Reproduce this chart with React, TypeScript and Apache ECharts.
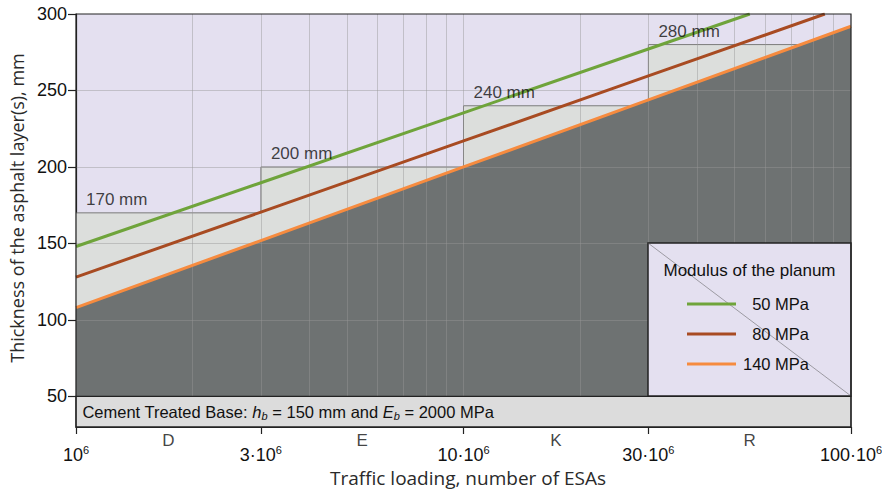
import React, { useEffect, useRef } from 'react';
import * as echarts from 'echarts';

// Traffic classes (ESAs) and their letters
const classBounds = [1e6, 3e6, 10e6, 30e6, 100e6];
const classNames = ['D', 'E', 'K', 'R'];
const tickLabels = ['10{s|6}', '3·10{s|6}', '10·10{s|6}', '30·10{s|6}', '100·10{s|6}'];
const yTicks = [50, 100, 150, 200, 250, 300];
const yMin = 30;
const yMax = 300;
const ctbTop = 50;
// Minimum thickness per class, mm
const minThickness = [170, 200, 240, 280];

// Modulus of the planum curves
const seriesNames = ['50 MPa', '80 MPa', '140 MPa'];
const colors = ['#6fa43b', '#a84b22', '#f68b3f'];
const esa50 = [1e6, 3e6, 10e6, 30e6, 54.8e6];
const thick50 = [148, 189.7, 235.4, 277.1, 300];
const esa80 = [1e6, 3e6, 10e6, 30e6, 85.6e6];
const thick80 = [128, 170.5, 217, 259.5, 300];
const esa140 = [1e6, 3e6, 10e6, 30e6, 100e6];
const thick140 = [108, 151.9, 200, 243.9, 292];

const FONT = '"Liberation Sans", Arial, sans-serif';
const TITLE_FONT = '"Open Sans", sans-serif';

const GL = 76, GT = 14, GR = 851, GB = 427;

export default function App() {
  const ref = useRef<HTMLDivElement>(null);
  useEffect(() => {
    if (!ref.current) return;
    const chart = echarts.init(ref.current, undefined, { renderer: 'svg' });

    const zip = (xs: number[], ys: number[]) => xs.map((x, i) => [x, ys[i]]);
    const curves = [zip(esa50, thick50), zip(esa80, thick80), zip(esa140, thick140)];

    const stepData = classBounds.map((x, i) => [x, minThickness[Math.min(i, minThickness.length - 1)]]);
    const stepLabels = minThickness.map((v, i) => [classBounds[i], v]);
    const classMid = classNames.map((n, i) => ({
      name: n,
      value: [Math.sqrt(classBounds[i] * classBounds[i + 1]), yMin],
    }));

    const gridX: number[] = [];
    [1e6, 1e7].forEach((d) => {
      for (let k = 1; k <= 9; k++) if (!(d === 1e6 && k === 1)) gridX.push(k * d);
    });
    const gridY = yTicks.filter((v) => v > ctbTop && v < yMax);

    const findTick = (v: number) => {
      const idx = classBounds.findIndex((b) => Math.abs(Math.log10(b) - Math.log10(v)) < 1e-6);
      return idx >= 0 ? tickLabels[idx] : '';
    };

    const legendItems: any[] = [];
    seriesNames.forEach((n, i) => {
      const cy = 304 + i * 30;
      legendItems.push({
        type: 'line',
        shape: { x1: 687, y1: cy, x2: 736, y2: cy },
        style: { stroke: colors[i], lineWidth: 3 },
        z: 21,
      });
      legendItems.push({
        type: 'text',
        x: 809,
        y: cy,
        style: { text: n, fontSize: 16.5, fontFamily: FONT, fill: '#111', align: 'right', verticalAlign: 'middle' },
        z: 21,
      });
    });

    chart.setOption({
      animation: false,
      grid: {
        left: GL,
        top: GT,
        right: 882 - GR,
        bottom: 494 - GB,
        containLabel: false,
        outerBoundsMode: 'none',
        show: true,
        backgroundColor: '#e4e0f0',
        borderWidth: 0,
      },
      xAxis: {
        type: 'log',
        logBase: 10,
        min: 1e6,
        max: 1e8,
        axisLine: { lineStyle: { color: '#222', width: 1.2 } },
        axisTick: { customValues: classBounds, length: 7, lineStyle: { color: '#222', width: 1.2 } },
        axisLabel: {
          customValues: classBounds,
          formatter: (v: number) => findTick(v),
          margin: 17,
          color: '#111',
          fontFamily: FONT,
          fontSize: 18,
          lineHeight: 22,
          hideOverlap: false,
          rich: { s: { fontSize: 11, lineHeight: 11, verticalAlign: 'top', fontFamily: FONT, color: '#111' } },
        },
        splitLine: { show: false },
      },
      yAxis: {
        type: 'value',
        min: yMin,
        max: yMax,
        axisLine: { show: true, lineStyle: { color: '#222', width: 1.2 } },
        axisTick: { show: true, customValues: yTicks, length: 8, lineStyle: { color: '#222', width: 1.2 } },
        axisLabel: { customValues: yTicks, margin: 9, color: '#111', fontFamily: FONT, fontSize: 18 },
        splitLine: { show: false },
      },
      series: [
        {
          type: 'line',
          step: 'end',
          data: stepData,
          symbol: 'none',
          silent: true,
          lineStyle: { color: '#7b7b7b', width: 1 },
          areaStyle: { color: '#dcdedc', opacity: 1, origin: 'start' },
          z: 1,
        },
        {
          type: 'line',
          data: curves[2],
          symbol: 'none',
          silent: true,
          lineStyle: { width: 0, opacity: 0 },
          areaStyle: { color: '#6e7272', opacity: 1, origin: 'start' },
          z: 2,
        },
        {
          type: 'line',
          data: [],
          silent: true,
          z: 4,
          markLine: {
            silent: true,
            symbol: 'none',
            z: 4,
            animation: false,
            label: { show: false },
            lineStyle: { color: 'rgba(150,150,150,0.45)', width: 1, type: 'solid' },
            data: [...gridX.map((x) => ({ xAxis: x })), ...gridY.map((y) => ({ yAxis: y }))],
          },
        },
        ...seriesNames.map((n, i) => ({
          name: n,
          type: 'line',
          data: curves[i],
          symbol: 'none',
          silent: true,
          lineStyle: { color: colors[i], width: 3 },
          z: 5,
        })),
        {
          type: 'scatter',
          data: stepLabels,
          symbolSize: 0,
          silent: true,
          z: 6,
          label: {
            show: true,
            formatter: (p: any) => p.value[1] + ' mm',
            position: 'top',
            align: 'left',
            distance: 5,
            offset: [10, 0],
            fontSize: 17,
            fontFamily: FONT,
            color: '#111',
          },
        },
        {
          type: 'scatter',
          data: classMid,
          symbolSize: 0,
          silent: true,
          z: 6,
          label: {
            show: true,
            formatter: (p: any) => p.name,
            position: 'bottom',
            distance: 5,
            fontSize: 17,
            fontFamily: FONT,
            color: '#111',
          },
          markArea: {
            silent: true,
            z: 10,
            itemStyle: { color: '#dcdcdc', borderColor: '#222', borderWidth: 1.2 },
            label: {
              show: true,
              position: 'insideLeft',
              distance: 7,
              formatter:
                '{t|Cement Treated Base: }{i|h}{sub|b}{t| = 150 mm and }{i|E}{sub|b}{t| = 2000 MPa}',
              rich: {
                t: { fontSize: 16.5, fontFamily: FONT, color: '#111', lineHeight: 20 },
                i: { fontSize: 16.5, fontFamily: FONT, fontStyle: 'italic', color: '#111', lineHeight: 20 },
                sub: { fontSize: 11, fontFamily: FONT, fontStyle: 'italic', color: '#111', lineHeight: 12, verticalAlign: 'bottom' },
              },
            },
            data: [[{ yAxis: yMin }, { yAxis: ctbTop }]],
          },
        },
      ],
      graphic: [
        {
          type: 'group',
          z: 20,
          children: [
            {
              type: 'rect',
              shape: { x: 648, y: 243, width: 203, height: 153 },
              style: { fill: '#e4e0f0', stroke: '#222', lineWidth: 1.5 },
              z: 20,
            },
            {
              type: 'line',
              shape: { x1: 648, y1: 243, x2: 851, y2: 396 },
              style: { stroke: '#555', lineWidth: 0.5 },
              z: 20,
            },
            {
              type: 'text',
              x: 749.5,
              y: 270,
              style: { text: 'Modulus of the planum', fontSize: 17, fontFamily: FONT, fill: '#111', align: 'center', verticalAlign: 'middle' },
              z: 21,
            },
            ...legendItems,
          ],
        },
        {
          type: 'rect',
          shape: { x: GL, y: GT, width: GR - GL, height: GB - GT },
          style: { fill: 'none', stroke: '#222', lineWidth: 1.2 },
          z: 30,
          silent: true,
        },
        {
          type: 'text',
          x: 17,
          y: 208,
          rotation: Math.PI / 2,
          style: { text: 'Thickness of the asphalt layer(s), mm', fontSize: 18, fontFamily: TITLE_FONT, fill: '#2a2a2a', align: 'center', verticalAlign: 'middle' },
        },
        {
          type: 'text',
          x: 468,
          y: 478,
          style: { text: 'Traffic loading, number of ESAs', fontSize: 19, fontFamily: TITLE_FONT, fill: '#2a2a2a', align: 'center', verticalAlign: 'middle' },
        },
      ],
    });
    return () => chart.dispose();
  }, []);
  return <div ref={ref} style={{ position: 'fixed', left: 0, top: 0, width: 882, height: 494, background: '#fff' }} />;
}
